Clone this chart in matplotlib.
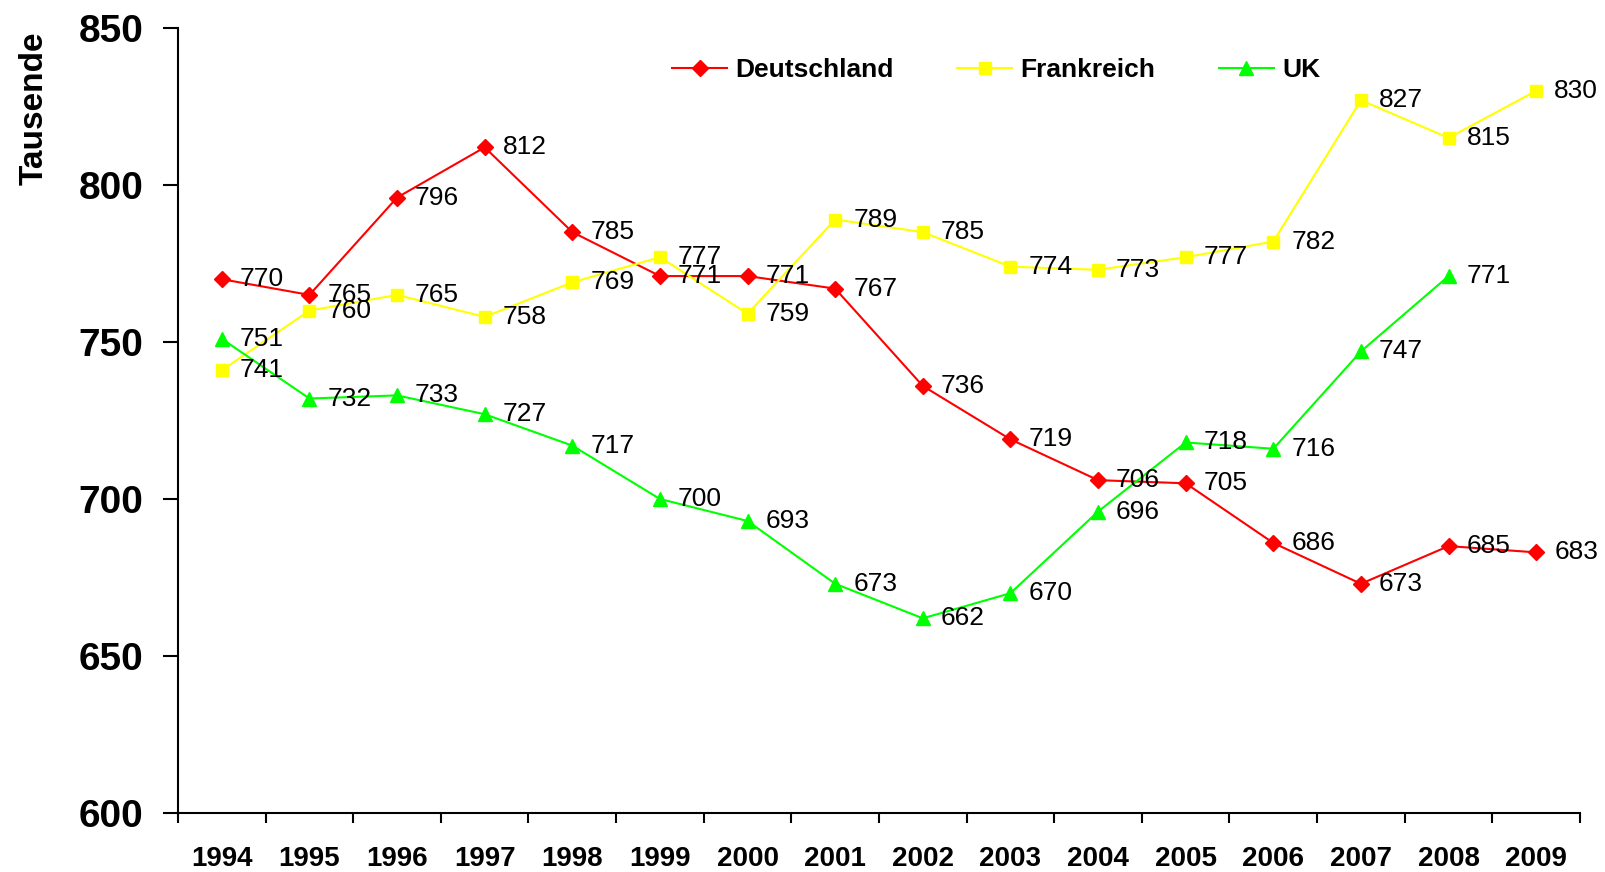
import matplotlib
matplotlib.use("Agg")
import matplotlib.pyplot as plt
import numpy as np

plt.rcParams['font.family'] = ['Liberation Sans Narrow', 'Liberation Sans', 'DejaVu Sans']

years = ['1994', '1995', '1996', '1997', '1998', '1999', '2000', '2001',
         '2002', '2003', '2004', '2005', '2006', '2007', '2008', '2009']
deutschland = [770, 765, 796, 812, 785, 771, 771, 767, 736, 719, 706, 705, 686, 673, 685, 683]
frankreich = [741, 760, 765, 758, 769, 777, 759, 789, 785, 774, 773, 777, 782, 827, 815, 830]
uk = [751, 732, 733, 727, 717, 700, 693, 673, 662, 670, 696, 718, 716, 747, 771]

fig = plt.figure(figsize=(16.06, 8.72), dpi=100)
ax = fig.add_axes([178/1606, 1-813/872, (1580-178)/1606, (813-28)/872])

series = [
    ('Deutschland', deutschland, '#FF0000', 'D', 8),
    ('Frankreich', frankreich, '#FFFF00', 's', 8),
    ('UK', uk, '#00FF00', '^', 9.5),
]
for name, vals, col, mk, ms in series:
    x = np.arange(len(vals))
    ax.plot(x, vals, color=col, lw=1.5, marker=mk, ms=ms, mec=col, mfc=col, label=name)
    for xi, v in zip(x, vals):
        ax.annotate(str(v), (xi, v), xytext=(13, 0), textcoords='offset points',
                    va='center', ha='left', fontsize=19, color='black')

ax.set_xlim(-0.5, 15.5)
ax.set_ylim(600, 850)
ax.set_yticks(range(600, 851, 50))
ax.set_yticklabels([str(v) for v in range(600, 851, 50)], fontsize=28, fontweight='bold')
ax.set_xticks(np.arange(-0.5, 16, 1))
ax.set_xticklabels([])
ax.set_xticks(np.arange(len(years)), minor=True)
ax.set_xticklabels(years, minor=True, fontsize=20, fontweight='bold')
ax.tick_params(axis='x', which='major', direction='out', length=7, width=1.5)
ax.tick_params(axis='x', which='minor', length=0, pad=24)
ax.tick_params(axis='y', direction='out', length=11, width=1.5, pad=14)

for s in ['top', 'right']:
    ax.spines[s].set_visible(False)
for s in ['left', 'bottom']:
    ax.spines[s].set_linewidth(1.5)

fig.text(34/1606, 1-108/872, 'Tausende', rotation=90, ha='center', va='center',
         fontsize=24, fontweight='bold')

leg = ax.legend(loc='center', bbox_to_anchor=(996/1606, 1-70/872), bbox_transform=fig.transFigure,
                ncol=3, frameon=False, handlelength=2.1, handletextpad=0.3,
                columnspacing=2.4, prop={'size': 19, 'weight': 'bold'})

fig.savefig('out.png', dpi=100)
